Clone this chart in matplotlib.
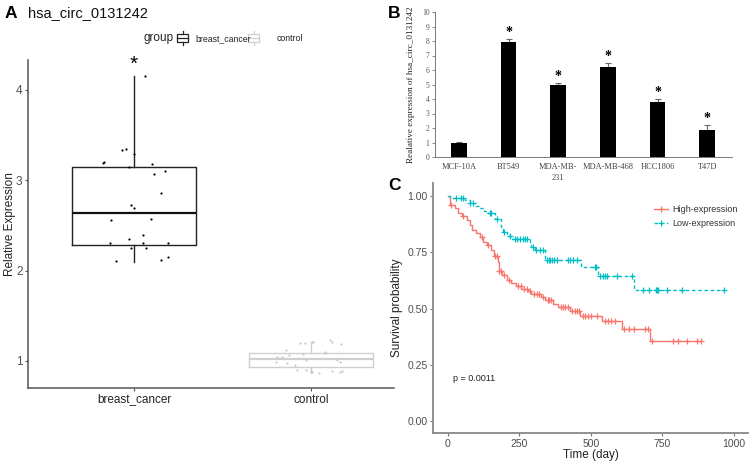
import numpy as np
import matplotlib
matplotlib.use('Agg')
import matplotlib.pyplot as plt
from matplotlib.patches import Rectangle
from matplotlib.lines import Line2D

plt.rcParams['font.family'] = ['Liberation Sans', 'DejaVu Sans']

# ---- panel A data ----
groups = ['breast_cancer', 'control']
bc_values = [4.155, 3.336, 3.347, 3.29, 3.19, 3.20, 3.15, 3.18, 3.10, 3.07,
             2.86, 2.72, 2.69, 2.56, 2.57, 2.39, 2.35, 2.30, 2.30, 2.30,
             2.25, 2.25, 2.10, 2.12, 2.15]
bc_jitter = [0.06, -0.07, -0.045, 0.0, -0.175, -0.17, -0.03, 0.10, 0.175, 0.11,
             0.15, -0.02, 0.0, -0.13, 0.095, 0.05, -0.03, -0.135, 0.05, 0.19,
             -0.015, 0.07, -0.10, 0.155, 0.19]
ctrl_values = [1.12, 1.07, 1.04, 1.20, 1.21, 1.10, 1.23, 1.19, 0.99, 0.89,
               0.87, 0.88, 0.90, 0.90, 0.95, 0.98, 1.01, 1.08, 1.04, 1.20,
               1.21, 1.21, 1.09, 1.01, 0.99, 0.89, 0.89, 0.88]
ctrl_jitter = [-0.14, -0.125, -0.19, -0.06, 0.005, 0.08, 0.11, 0.17, 0.165, 0.175,
               0.045, 0.005, -0.025, -0.08, -0.09, -0.135, -0.025, -0.045, -0.165, -0.035,
               0.01, 0.12, 0.08, 0.15, -0.2, 0.0, 0.12, 0.165]
bc_box = dict(whislo=2.096, q1=2.284, med=2.638, q3=3.148, whishi=4.155)
ctrl_box = dict(whislo=0.867, q1=0.934, med=1.022, q3=1.089, whishi=1.21)

# ---- panel B data ----
cell_lines = ['MCF-10A', 'BT549', 'MDA-MB-\n231', 'MDA-MB-468', 'HCC1806', 'T47D']
rel_expr = [1.0, 7.9, 4.95, 6.2, 3.8, 1.86]
rel_err = [0.03, 0.24, 0.15, 0.3, 0.2, 0.34]
significant = [False, True, True, True, True, True]

# ---- panel C data ----
high_times = [0, 9, 24, 36, 48, 66, 77, 86, 98, 112, 123, 135, 149, 161, 175, 178,
              190, 207, 222, 238, 256, 280, 291, 326, 339, 367, 385, 427, 462, 537,
              610, 706]
high_surv = [1.0, 0.96, 0.945, 0.925, 0.91, 0.893, 0.871, 0.85, 0.835, 0.818, 0.797,
             0.782, 0.76, 0.733, 0.705, 0.668, 0.65, 0.627, 0.615, 0.60, 0.587, 0.578,
             0.565, 0.552, 0.538, 0.522, 0.507, 0.487, 0.466, 0.445, 0.41, 0.356]
high_censor = [12, 54, 118, 140, 165, 170, 180, 186, 195, 215, 245, 255, 265, 275,
               287, 300, 310, 320, 332, 350, 355, 360, 395, 403, 410, 420, 435, 445,
               452, 460, 473, 480, 490, 500, 521, 548, 560, 570, 583, 615, 633, 650,
               689, 699, 713, 787, 804, 836, 871, 886]
high_end = 886

low_times = [0, 9, 60, 76, 97, 109, 125, 138, 164, 184, 193, 206, 225, 287, 292,
             304, 339, 467, 525, 650]
low_surv = [1.0, 0.992, 0.982, 0.97, 0.956, 0.947, 0.935, 0.925, 0.897, 0.864,
            0.842, 0.822, 0.81, 0.793, 0.775, 0.76, 0.716, 0.684, 0.644, 0.582]
low_censor = [29, 45, 54, 79, 89, 148, 152, 171, 196, 216, 234, 242, 251, 262, 269,
              278, 298, 309, 322, 334, 345, 352, 358, 365, 372, 380, 420, 428, 436,
              450, 513, 519, 532, 543, 549, 555, 590, 642, 682, 703, 727, 731, 735,
              766, 818, 965]
low_end = 965
p_text = 'p = 0.0011'

W, H = 752, 462
fig = plt.figure(figsize=(W / 100, H / 100), dpi=100)


def rect(x0, y0, x1, y1):
    # pixel box (top-left origin) -> figure fraction
    return [x0 / W, 1 - y1 / H, (x1 - x0) / W, (y1 - y0) / H]


def fx(x):
    return x / W


def fy(y):
    return 1 - y / H


axis_col = '#555555'
tick_col = '#4d4d4d'

# ================= Panel A =================
axA = fig.add_axes(rect(28, 60, 394, 388))
axA.bxp([dict(bc_box, label=groups[0])], positions=[1], widths=0.7,
        showfliers=False, showcaps=False, patch_artist=False,
        boxprops=dict(color='#222222', lw=1.0),
        whiskerprops=dict(color='#222222', lw=1.0),
        medianprops=dict(color='#111111', lw=1.6))
axA.bxp([dict(ctrl_box, label=groups[1])], positions=[2], widths=0.7,
        showfliers=False, showcaps=False,
        boxprops=dict(color='#cfcfcf', lw=1.0),
        whiskerprops=dict(color='#cfcfcf', lw=1.0),
        medianprops=dict(color='#cfcfcf', lw=1.6))
axA.scatter(1 + np.array(bc_jitter), bc_values, s=2.5, color='black', zorder=3, lw=0)
axA.scatter(2 + np.array(ctrl_jitter), ctrl_values, s=2.5, color='#c8c8c8', zorder=3, lw=0)
axA.text(1, max(bc_values) + 0.02, '*', ha='center', va='bottom', fontsize=15)
axA.set_xlim(0.40, 2.47)
axA.set_ylim(0.70, 4.33)
axA.set_xticks([1, 2])
axA.set_xticklabels(groups, fontsize=8.5, color='#222222')
axA.set_yticks([1, 2, 3, 4])
axA.set_yticklabels(['1', '2', '3', '4'], fontsize=8.5, color=tick_col)
axA.set_ylabel('Relative Expression', fontsize=8.5, color='#222222', labelpad=0)
for s in ['top', 'right']:
    axA.spines[s].set_visible(False)
for s in ['left', 'bottom']:
    axA.spines[s].set_color(axis_col)
    axA.spines[s].set_linewidth(1.1)
axA.tick_params(length=2.5, width=0.8, color=axis_col, pad=1.5)

fig.text(fx(5), fy(13), 'A', fontsize=12.5, fontweight='bold', va='center')
fig.text(fx(28), fy(13), 'hsa_circ_0131242', fontsize=10.5, va='center', color='#111111')

# legend for A drawn by hand (ggplot style)
fig.text(fx(143), fy(38.5), 'group', fontsize=8.5, va='center', color='#222222')


def box_key(x0, col):
    x1 = x0 + 11
    xm = (x0 + x1) / 2
    fig.add_artist(Rectangle((fx(x0), fy(42)), (x1 - x0) / W, 8 / H,
                             transform=fig.transFigure, fill=False, ec=col, lw=0.9))
    fig.add_artist(Line2D([fx(x0), fx(x1)], [fy(38), fy(38)], transform=fig.transFigure,
                          color=col, lw=0.9))
    fig.add_artist(Line2D([fx(xm), fx(xm)], [fy(31), fy(34)], transform=fig.transFigure,
                          color=col, lw=0.9))
    fig.add_artist(Line2D([fx(xm), fx(xm)], [fy(42), fy(45)], transform=fig.transFigure,
                          color=col, lw=0.9))


box_key(177, '#222222')
fig.text(fx(195), fy(38.5), 'breast_cancer', fontsize=6.3, va='center', color='#222222')
box_key(248, '#cfcfcf')
fig.text(fx(277), fy(38.5), 'control', fontsize=6.3, va='center', color='#222222')

# ================= Panel B =================
serif = ['Liberation Serif', 'DejaVu Serif']
axB = fig.add_axes(rect(435, 12, 732, 157))
xpos = np.arange(len(cell_lines))
axB.bar(xpos, rel_expr, width=0.32, color='black', zorder=2)
axB.errorbar(xpos, rel_expr, yerr=[np.zeros(len(rel_err)), rel_err], fmt='none',
             ecolor='#666666', elinewidth=0.8, capsize=2, capthick=0.8, zorder=1)
for x, v, e, sig in zip(xpos, rel_expr, rel_err, significant):
    if sig:
        axB.text(x, v + e + 0.0, '*', ha='center', va='bottom', fontsize=10,
                 fontweight='bold', family=serif)
axB.set_xlim(-0.48, 5.5)
axB.set_ylim(0, 10)
axB.set_yticks(range(0, 11))
axB.set_yticklabels([str(i) for i in range(11)], fontsize=5.5, family=serif, color='#555555')
axB.set_xticks(xpos)
axB.set_xticklabels(cell_lines, fontsize=6, family=serif, color='#444444', linespacing=1.6)
axB.tick_params(axis='x', length=0, pad=4)
axB.tick_params(axis='y', length=2, width=0.6, color='#777777', pad=2)
for s in ['top', 'right']:
    axB.spines[s].set_visible(False)
for s in ['left', 'bottom']:
    axB.spines[s].set_color('#777777')
    axB.spines[s].set_linewidth(0.7)
axB.set_ylabel('Realative expression of hsa_circ_0131242', fontsize=6.6, family=serif,
               color='#222222', labelpad=5)
fig.text(fx(388), fy(13), 'B', fontsize=12.5, fontweight='bold', va='center')

# ================= Panel C =================
red = '#F8766D'
teal = '#00BFC4'
axC = fig.add_axes(rect(433, 183, 748, 433))


def km(ax, times, surv, censor, end, col, ls, label):
    t = list(times) + [end]
    s = list(surv) + [surv[-1]]
    ax.step(t, s, where='post', color=col, lw=1.0, ls=ls)
    idx = np.searchsorted(times, censor, side='right') - 1
    cs = np.array(surv)[idx]
    ax.plot(censor, cs, ls='none', marker='+', ms=5, mew=0.9, color=col)
    return Line2D([], [], color=col, lw=1.0, ls=ls, marker='+', ms=5, mew=0.9, label=label)


h1 = km(axC, high_times, high_surv, high_censor, high_end, red, '-', 'High-expression')
h2 = km(axC, low_times, low_surv, low_censor, low_end, teal, (0, (2.5, 2)), 'Low-expression')
axC.set_xlim(-52, 1049)
axC.set_ylim(-0.053, 1.058)
axC.set_xticks([0, 250, 500, 750, 1000])
axC.set_xticklabels(['0', '250', '500', '750', '1000'], fontsize=7.5, color=tick_col)
axC.set_yticks([0, 0.25, 0.5, 0.75, 1.0])
axC.set_yticklabels(['0.00', '0.25', '0.50', '0.75', '1.00'], fontsize=7.5, color=tick_col)
axC.set_xlabel('Time (day)', fontsize=8.5, color='#222222', labelpad=0)
axC.set_ylabel('Survival probability', fontsize=8.5, color='#222222', labelpad=3)
for s in ['top', 'right']:
    axC.spines[s].set_visible(False)
for s in ['left', 'bottom']:
    axC.spines[s].set_color('#888888')
    axC.spines[s].set_linewidth(1.3)
axC.tick_params(length=2.5, width=0.8, color='#777777', pad=1.5)
axC.text(18, 0.19, p_text, fontsize=6.5, va='center', ha='left', color='#222222')
leg = axC.legend(handles=[h1, h2], loc='upper left', bbox_to_anchor=(0.69, 0.925),
                 frameon=False, fontsize=6.5, handlelength=1.6, handletextpad=0.4,
                 labelspacing=0.55, borderaxespad=0)
for t in leg.get_texts():
    t.set_color('#333333')
fig.text(fx(388), fy(186), 'C', fontsize=12.5, fontweight='bold', va='center')

fig.savefig('out.png', dpi=100)
